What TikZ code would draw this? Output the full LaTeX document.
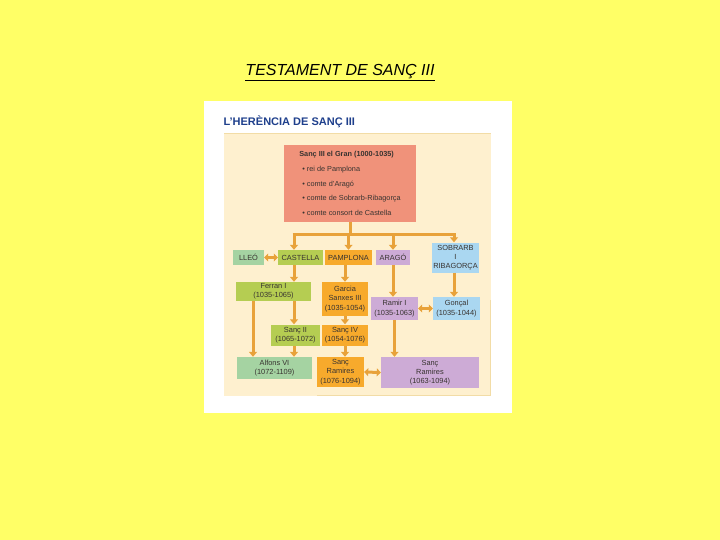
\documentclass[tikz,border=0pt]{standalone}
\usepackage{fontspec}
\setmainfont{Liberation Sans}
\usetikzlibrary{arrows.meta}
\definecolor{fons}{HTML}{FFFF66}
\definecolor{crema}{HTML}{FEF0CF}
\definecolor{cremavora}{HTML}{F2DCA6}
\definecolor{salmo}{HTML}{F0927A}
\definecolor{verd}{HTML}{B5CD52}
\definecolor{verdclar}{HTML}{A5D3A2}
\definecolor{taronja}{HTML}{F7AA2C}
\definecolor{lila}{HTML}{CDABD6}
\definecolor{blau}{HTML}{AAD7F1}
\definecolor{fletxa}{HTML}{E8A23A}
\definecolor{titolblau}{HTML}{1E3F8C}
\definecolor{lletra}{HTML}{383330}
\tikzset{
  caixa/.style={inner sep=0pt, align=center, text=lletra, font=\fontsize{7.4}{9.2}\selectfont},
  fl/.style={draw=fletxa, line width=3pt, -{Triangle[length=5pt,width=8pt]}},
  dfl/.style={draw=fletxa, line width=3pt, {Triangle[length=4pt,width=8pt]}-{Triangle[length=4pt,width=8pt]}},
  barra/.style={draw=fletxa, line width=3pt}
}
\begin{document}
\begin{tikzpicture}[x=1pt,y=-1pt]
  \fill[fons] (0,0) rectangle (720,540);
  \useasboundingbox (0,0) rectangle (720,540);
  \node (titol) at (340,73) {\fontsize{16}{18}\selectfont\itshape\underline{TESTAMENT DE SANÇ III}};
  \fill[white] (204,101) rectangle (512,413);
  \node[anchor=west, text=titolblau] (herencia) at (220,122) {\fontsize{11}{13}\selectfont\bfseries L'HERÈNCIA DE SANÇ III};
  \fill[crema] (224,133) rectangle (491,396);
  \draw[cremavora, line width=1.5pt] (224,133.5) -- (491,133.5);
  \draw[cremavora, line width=1.5pt] (317,395.5) -- (490.5,395.5) -- (490.5,300);

  \node[caixa, fill=salmo, minimum width=132pt, minimum height=77pt, align=left, font=\fontsize{7.3}{14.7}\selectfont] (sanc3) at (350,183.5)
    {\hspace*{0pt}\textbf{Sanç III el Gran (1000-1035)}\\
     \hspace*{3pt}• rei de Pamplona\\
     \hspace*{3pt}• comte d'Aragó\\
     \hspace*{3pt}• comte de Sobrarb-Ribagorça\\
     \hspace*{3pt}• comte consort de Castella};

  \node[caixa, fill=verdclar, minimum width=31pt, minimum height=15pt] (lleo) at (248.5,257.5) {LLEÓ};
  \node[caixa, fill=verd, minimum width=45pt, minimum height=15pt] (castella) at (300.5,257.5) {CASTELLA};
  \node[caixa, fill=taronja, minimum width=47pt, minimum height=15pt] (pamplona) at (348.5,257.5) {PAMPLONA};
  \node[caixa, fill=lila, minimum width=34pt, minimum height=15pt] (arago) at (393,257.5) {ARAGÓ};
  \node[caixa, fill=blau, minimum width=47pt, minimum height=30pt] (sobrarb) at (455.5,257.5) {SOBRARB\\I\\RIBAGORÇA};

  \node[caixa, fill=verd, minimum width=75pt, minimum height=19pt] (ferran) at (273.5,291.5) {Ferran I\\(1035-1065)};
  \node[caixa, fill=taronja, minimum width=46pt, minimum height=34pt] (garcia) at (345,299) {Garcia\\Sanxes III\\(1035-1054)};
  \node[caixa, fill=lila, minimum width=47pt, minimum height=23pt] (ramir) at (394.5,308.5) {Ramir I\\(1035-1063)};
  \node[caixa, fill=blau, minimum width=47pt, minimum height=23pt] (goncal) at (456.5,308.5) {Gonçal\\(1035-1044)};

  \node[caixa, fill=verd, minimum width=49pt, minimum height=21pt] (sanc2) at (295.5,335) {Sanç II\\(1065-1072)};
  \node[caixa, fill=taronja, minimum width=46pt, minimum height=21pt] (sanc4) at (345,335) {Sanç IV\\(1054-1076)};

  \node[caixa, fill=verdclar, minimum width=75pt, minimum height=22pt] (alfons) at (274.5,368) {Alfons VI\\(1072-1109)};
  \node[caixa, fill=taronja, minimum width=47pt, minimum height=30pt] (sancram) at (340.5,372) {Sanç\\Ramires\\(1076-1094)};
  \node[caixa, fill=lila, minimum width=98pt, minimum height=31pt] (sancramir) at (430,372.5) {Sanç\\Ramires\\(1063-1094)};

  \coordinate (nus) at (350,234);
  \coordinate (b1) at (294,234);
  \coordinate (b4) at (454,234);
  \draw[barra] (sanc3.south) -- (nus);
  \draw[barra] ([xshift=-1.5pt]b1) -- ([xshift=1.5pt]b4);
  \draw[fl] (b1) -- (b1 |- castella.north);
  \draw[fl] (nus) -- (nus -| pamplona.north) -- (pamplona.north);
  \draw[fl] (nus -| arago.north) -- (arago.north);
  \draw[fl] (b4) -- (b4 |- sobrarb.north);

  \draw[dfl] (lleo.east) -- (castella.west);
  \draw[fl] (b1 |- castella.south) -- (b1 |- ferran.north);
  \draw[fl] (pamplona.south -| garcia.north) -- (garcia.north);
  \draw[fl] (arago.south) -- (arago.south |- ramir.north);
  \draw[fl] (b4 |- sobrarb.south) -- (b4 |- goncal.north);
  \draw[dfl] (ramir.east) -- (goncal.west);

  \draw[fl] (b1 |- ferran.south) -- (b1 |- sanc2.north);
  \draw[fl] ([xshift=-20.5pt]ferran.south) -- ([xshift=-20.5pt]ferran.south |- alfons.north);
  \draw[fl] (garcia.south) -- (sanc4.north);
  \draw[fl] (b1 |- sanc2.south) -- (b1 |- alfons.north);
  \draw[fl] (sanc4.south) -- (sanc4.south |- sancram.north);
  \draw[fl] (ramir.south) -- (ramir.south |- sancramir.north);
  \draw[dfl] (sancram.east) -- (sancramir.west);
\end{tikzpicture}
\end{document}
